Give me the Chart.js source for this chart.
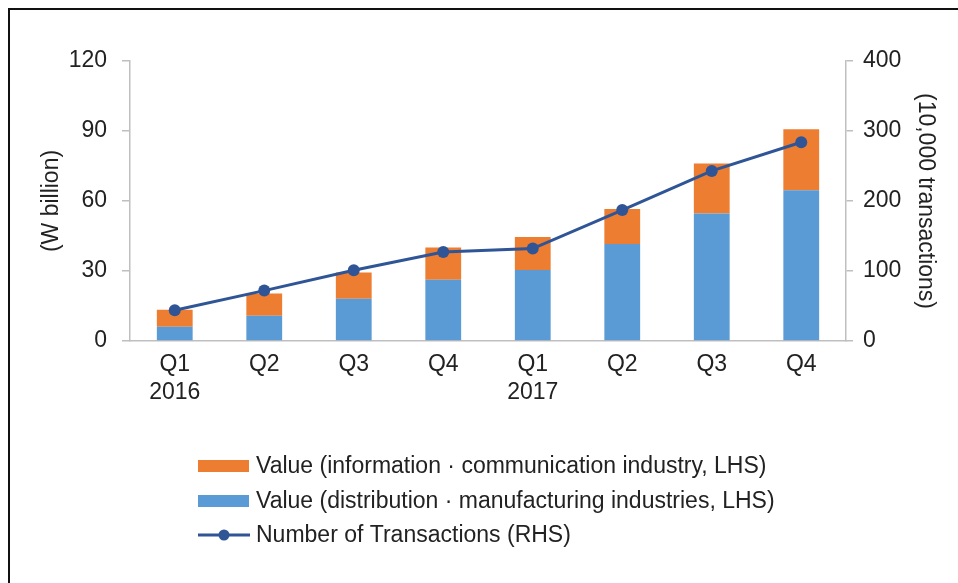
<!DOCTYPE html>
<html>
<head>
<meta charset="utf-8">
<script src="https://cdn.jsdelivr.net/npm/chart.js@4"></script>
<style>
  html, body { margin: 0; padding: 0; background: #fff; }
  #wrap { position: relative; width: 958px; height: 583px; overflow: hidden; }
  #frame { position: absolute; left: 8px; top: 8px; right: -4px; bottom: -4px;
           border-top: 2px solid #111; border-left: 2px solid #111; }
  canvas { position: absolute; left: 0; top: 0; }
</style>
</head>
<body>
<div id="wrap">
  <div id="frame"></div>
  <canvas id="myChart" width="958" height="583"></canvas>
</div>
<script>
// quarters, multi-line labels (year under Q1)
const labels = [["Q1", "2016"], "Q2", "Q3", "Q4", ["Q1", "2017"], "Q2", "Q3", "Q4"];
// W billion, LHS
const infoComm = [7.3, 9.6, 11.3, 13.8, 14.2, 15.0, 21.5, 26.1];
const distManu = [6.1, 10.8, 18.1, 26.3, 30.4, 41.6, 54.6, 64.6];
// 10,000 transactions, RHS
const transactions = [44, 72, 101, 127, 132, 187, 243, 284];

const leftTicks = [0, 30, 60, 90, 120];
const rightTicks = [0, 100, 200, 300, 400];

const ORANGE = "#ED7D31";
const BLUE = "#5B9BD5";
const NAVY = "#2F5597";
const FONT = "'Liberation Sans', Arial, sans-serif";
const SIZE = 23;

// legend drawn as a vertical list below the chart
const legendPlugin = {
  id: "stackLegend",
  afterDraw(chart) {
    const ctx = chart.ctx;
    const items = [
      { text: "Value (information \u00b7 communication industry, LHS)", color: ORANGE, type: "box" },
      { text: "Value (distribution \u00b7 manufacturing industries, LHS)", color: BLUE, type: "box" },
      { text: "Number of Transactions (RHS)", color: NAVY, type: "line" },
    ];
    const rowY = [466, 501, 535];
    ctx.save();
    ctx.font = SIZE + "px " + FONT;
    ctx.textBaseline = "middle";
    items.forEach((item, i) => {
      const y = rowY[i];
      if (item.type === "box") {
        ctx.fillStyle = item.color;
        ctx.fillRect(198, y - 6, 51, 12);
      } else {
        ctx.strokeStyle = item.color;
        ctx.lineWidth = 3;
        ctx.beginPath();
        ctx.moveTo(198, y);
        ctx.lineTo(250, y);
        ctx.stroke();
        ctx.fillStyle = item.color;
        ctx.beginPath();
        ctx.arc(224, y, 5.5, 0, Math.PI * 2);
        ctx.fill();
      }
      ctx.fillStyle = "#222";
      ctx.fillText(item.text, 256, y + 1);
    });
    ctx.restore();
  },
};

Chart.defaults.font.family = FONT;
Chart.defaults.font.size = SIZE;
Chart.defaults.color = "#222";

new Chart(document.getElementById("myChart"), {
  type: "bar",
  data: {
    labels: labels,
    datasets: [
      {
        type: "line",
        label: "Number of Transactions (RHS)",
        data: transactions,
        yAxisID: "y1",
        borderColor: NAVY,
        backgroundColor: NAVY,
        borderWidth: 3,
        pointRadius: 6,
        pointHoverRadius: 6,
        pointBackgroundColor: NAVY,
        pointBorderWidth: 0,
        tension: 0,
        order: 0,
      },
      {
        label: "Value (distribution \u00b7 manufacturing industries, LHS)",
        data: distManu,
        backgroundColor: BLUE,
        stack: "v",
        yAxisID: "y",
        barPercentage: 0.8,
        categoryPercentage: 0.5,
        order: 1,
      },
      {
        label: "Value (information \u00b7 communication industry, LHS)",
        data: infoComm,
        backgroundColor: ORANGE,
        stack: "v",
        yAxisID: "y",
        barPercentage: 0.8,
        categoryPercentage: 0.5,
        order: 1,
      },
    ],
  },
  options: {
    responsive: false,
    animation: false,
    layout: { padding: { top: 61, left: 0, right: 0, bottom: 0 } },
    plugins: { legend: { display: false }, tooltip: { enabled: false } },
    scales: {
      x: {
        stacked: true,
        grid: { display: false },
        border: { color: "#BFBFBF", width: 1.5 },
        ticks: { padding: 2, maxRotation: 0, font: { size: SIZE, lineHeight: 1.2 } },
        afterFit: (s) => { s.height = 583 - 341; },
      },
      y: {
        stacked: true,
        position: "left",
        min: 0,
        max: 120,
        afterBuildTicks: (s) => { s.ticks = leftTicks.map((v) => ({ value: v })); },
        grid: { drawOnChartArea: false, drawTicks: true, tickLength: 8, color: "#BFBFBF", lineWidth: 1.5 },
        border: { color: "#BFBFBF", width: 1.5 },
        ticks: { padding: 15 },
        title: { display: true, text: "(W billion)", padding: { top: 38 } },
        afterFit: (s) => { s.width = 130; },
      },
      y1: {
        position: "right",
        min: 0,
        max: 400,
        afterBuildTicks: (s) => { s.ticks = rightTicks.map((v) => ({ value: v })); },
        grid: { drawOnChartArea: false, drawTicks: true, tickLength: 7, color: "#BFBFBF", lineWidth: 1.5 },
        border: { color: "#BFBFBF", width: 1.5 },
        ticks: { padding: 10 },
        title: { display: true, text: "(10,000 transactions)", padding: { top: 19 } },
        afterFit: (s) => { s.width = 958 - 846; },
      },
    },
  },
  plugins: [legendPlugin],
});
</script>
</body>
</html>
